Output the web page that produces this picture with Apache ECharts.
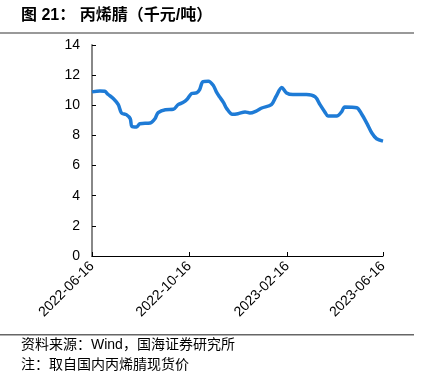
<!DOCTYPE html>
<html>
<head>
<meta charset="utf-8">
<script src="https://cdn.jsdelivr.net/npm/echarts@6/dist/echarts.min.js"></script>
<style>html,body{margin:0;padding:0;background:#fff}#c{width:421px;height:371px}</style>
</head>
<body>
<div id="c"></div>
<script>
const dates = ['2022-06-16','2022-06-26','2022-07-02','2022-07-06','2022-07-13','2022-07-19','2022-07-23','2022-07-29','2022-08-03','2022-08-05','2022-08-11','2022-08-15','2022-08-28','2022-09-03','2022-09-07','2022-09-16','2022-09-26','2022-10-02','2022-10-08','2022-10-13','2022-10-19','2022-10-25','2022-10-29','2022-11-02','2022-11-09','2022-11-15','2022-11-19','2022-11-23','2022-11-28','2022-12-02','2022-12-09','2022-12-16','2022-12-25','2022-12-31','2023-01-08','2023-01-15','2023-01-27','2023-02-02','2023-02-09','2023-02-15','2023-02-23','2023-03-12','2023-03-23','2023-03-29','2023-04-04','2023-04-08','2023-04-19','2023-04-25','2023-04-29','2023-05-14','2023-05-20','2023-05-27','2023-06-02','2023-06-08','2023-06-16'];
const prices = [10.89,10.95,10.93,10.73,10.44,10.04,9.49,9.38,9.11,8.6,8.56,8.78,8.82,9.11,9.51,9.71,9.73,10.04,10.18,10.38,10.78,10.82,11.04,11.56,11.6,11.33,10.89,10.56,10.18,9.78,9.4,9.44,9.56,9.49,9.62,9.82,10.04,10.6,11.18,10.82,10.71,10.71,10.56,10.04,9.56,9.29,9.29,9.56,9.89,9.84,9.44,8.78,8.16,7.78,7.62];
const tickDates = ['2022-06-16','2022-10-16','2023-02-16','2023-06-16'];
const yTicks = [0,2,4,6,8,10,12,14];

const DAY = 86400000;
const toDay = d => Math.round(Date.UTC(+d.slice(0,4), +d.slice(5,7)-1, +d.slice(8,10)) / DAY);
const tickVals = tickDates.map(toDay);
const labelMap = {};
tickDates.forEach((d, i) => { labelMap[tickVals[i]] = d; });

const chart = echarts.init(document.getElementById('c'));
chart.setOption({
  animation: false,
  grid: {left: 92, right: 38, top: 45, bottom: 115},
  xAxis: {
    type: 'value',
    min: tickVals[0], max: tickVals[tickVals.length-1],
    axisLine: {show: true, onZero: false, lineStyle: {color: '#000', width: 1}},
    axisTick: {show: true, inside: true, length: 4, lineStyle: {color: '#000'}, customValues: tickVals},
    axisLabel: {rotate: 45, fontSize: 14, color: '#000', fontFamily: 'Liberation Sans', margin: 8,
      customValues: tickVals,
      formatter: v => labelMap[Math.round(v)] || ''},
    splitLine: {show: false}
  },
  yAxis: {
    type: 'value', min: yTicks[0], max: yTicks[yTicks.length-1], interval: 2,
    axisLine: {show: true, lineStyle: {color: '#888', width: 2}},
    axisTick: {show: true, inside: true, length: 4, lineStyle: {color: '#000'}},
    axisLabel: {fontSize: 14, color: '#000', fontFamily: 'Liberation Sans', margin: 12},
    splitLine: {show: false}
  },
  series: [{
    type: 'line', showSymbol: false, smooth: 0.3,
    data: dates.map((d, i) => [toDay(d), prices[i]]),
    lineStyle: {color: '#1e7bd6', width: 3.5}
  }],
  graphic: [
    {type: 'text', left: 21, top: 8, style: {text: '图 21： 丙烯腈（千元/吨）', font: 'bold 16px "Liberation Sans", "Noto Sans CJK SC"', fill: '#000'}},
    {type: 'rect', shape: {x: 0, y: 32, width: 414, height: 2}, style: {fill: '#999'}},
    {type: 'rect', shape: {x: 0, y: 334, width: 414, height: 1.5}, style: {fill: '#666'}},
    {type: 'text', left: 21, top: 338, style: {text: '资料来源：Wind，国海证券研究所', font: '14px "Liberation Sans", "Noto Sans CJK SC"', fill: '#000'}},
    {type: 'text', left: 21, top: 357, style: {text: '注：取自国内丙烯腈现货价', font: '14px "Noto Sans CJK SC"', fill: '#000'}}
  ]
});
</script>
</body>
</html>
